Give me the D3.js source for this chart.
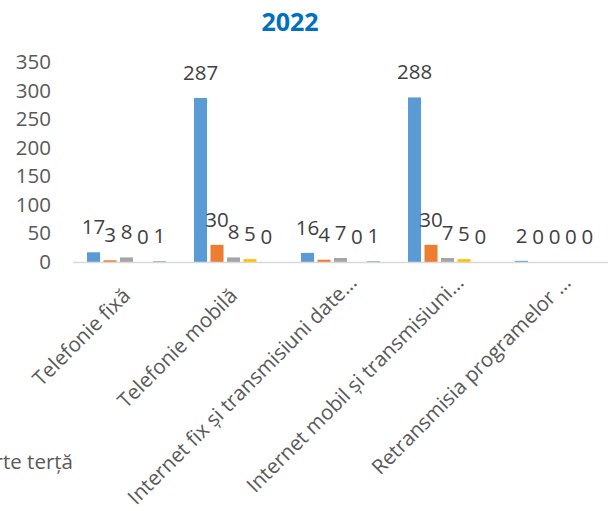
<!DOCTYPE html>
<html lang="ro">
<head>
  <meta charset="UTF-8">
  <title>2022</title>
  <style>
    body { margin: 0; background: #fff; }
    svg { display: block; font-family: "Open Sans", sans-serif; }
  </style>
</head>
<body>
  <script src="https://d3js.org/d3.v7.min.js"></script>
  <script>
    const width = 616, height = 511;

    const categories = [
      "Telefonie fixă",
      "Telefonie mobilă",
      "Internet fix şi transmisiuni date…",
      "Internet mobil şi transmisiuni…",
      "Retransmisia programelor …"
    ];
    const seriesNames = ["s1", "s2", "s3", "s4", "s5"];
    const s1 = [17, 287, 16, 288, 2];
    const s2 = [3, 30, 4, 30, 0];
    const s3 = [8, 8, 7, 7, 0];
    const s4 = [0, 5, 0, 5, 0];
    const s5 = [1, 0, 1, 0, 0];
    const yTicks = [0, 50, 100, 150, 200, 250, 300, 350];
    const colors = ["#5B9BD5", "#ED7D31", "#A5A5A5", "#FFC000", "#4472C4"];

    const allSeries = [s1, s2, s3, s4, s5];

    const svg = d3.select("body").append("svg")
      .attr("width", width)
      .attr("height", height);

    const x0 = d3.scaleBand()
      .domain(categories)
      .range([73, 608])
      .paddingInner(0.262)
      .paddingOuter(0.131);

    const x1 = d3.scaleBand()
      .domain(seriesNames)
      .range([0, x0.bandwidth()])
      .paddingInner(0.21);

    const y = d3.scaleLinear()
      .domain([0, 350])
      .range([262, 62]);

    // title
    svg.append("text")
      .attr("x", 290)
      .attr("y", 31)
      .attr("text-anchor", "middle")
      .attr("font-size", 25)
      .attr("font-weight", "bold")
      .attr("fill", "#0070C0")
      .text("2022");

    // y axis labels
    const yAxis = d3.axisLeft(y).tickValues(yTicks).tickSize(0).tickPadding(0);
    const gy = svg.append("g").attr("transform", "translate(51,0)").call(yAxis);
    gy.select(".domain").remove();
    gy.selectAll("text")
      .attr("font-family", "Open Sans, sans-serif")
      .attr("font-size", 20.5)
      .attr("fill", "#595959");

    // bars
    const groups = svg.selectAll("g.cat")
      .data(categories)
      .enter().append("g")
      .attr("class", "cat")
      .attr("transform", d => `translate(${x0(d)},0)`);

    groups.each(function (cat, ci) {
      const g = d3.select(this);
      const vals = allSeries.map((s, si) => ({ key: seriesNames[si], v: s[ci], c: colors[si] }));
      g.selectAll("rect")
        .data(vals.filter(d => d.v > 0))
        .enter().append("rect")
        .attr("x", d => x1(d.key))
        .attr("y", d => y(d.v))
        .attr("width", x1.bandwidth())
        .attr("height", d => y(0) - y(d.v))
        .attr("fill", d => d.c);
      g.selectAll("text.lbl")
        .data(vals)
        .enter().append("text")
        .attr("class", "lbl")
        .attr("x", d => x1(d.key) + x1.bandwidth() / 2)
        .attr("y", d => y(d.v) - 18)
        .attr("text-anchor", "middle")
        .attr("font-size", 20.5)
        .attr("fill", "#404040")
        .text(d => d.v);
    });

    // x axis line + rotated category labels
    const xAxis = d3.axisBottom(x0).tickSize(0).tickPadding(0);
    const gx = svg.append("g").attr("transform", "translate(0,262)").call(xAxis);
    gx.select(".domain")
      .attr("stroke", "#D9D9D9")
      .attr("stroke-width", 1.3)
      .attr("d", "M73,0.5H608");
    // truncated labels sit a bit further along the slant, like Excel does
    gx.selectAll(".tick text")
      .attr("font-family", "Open Sans, sans-serif")
      .attr("font-size", 20.5)
      .attr("fill", "#595959")
      .attr("text-anchor", "end")
      .attr("y", 0)
      .attr("dy", 0)
      .attr("transform", d => d.endsWith("…") ? "translate(17.5,22) rotate(-45)" : "translate(5,35) rotate(-45)");

    // cut-off legend entry
    svg.append("text")
      .attr("x", 73)
      .attr("y", 469)
      .attr("text-anchor", "end")
      .attr("font-size", 20.5)
      .attr("fill", "#595959")
      .text("parte terţă");
  </script>
</body>
</html>
